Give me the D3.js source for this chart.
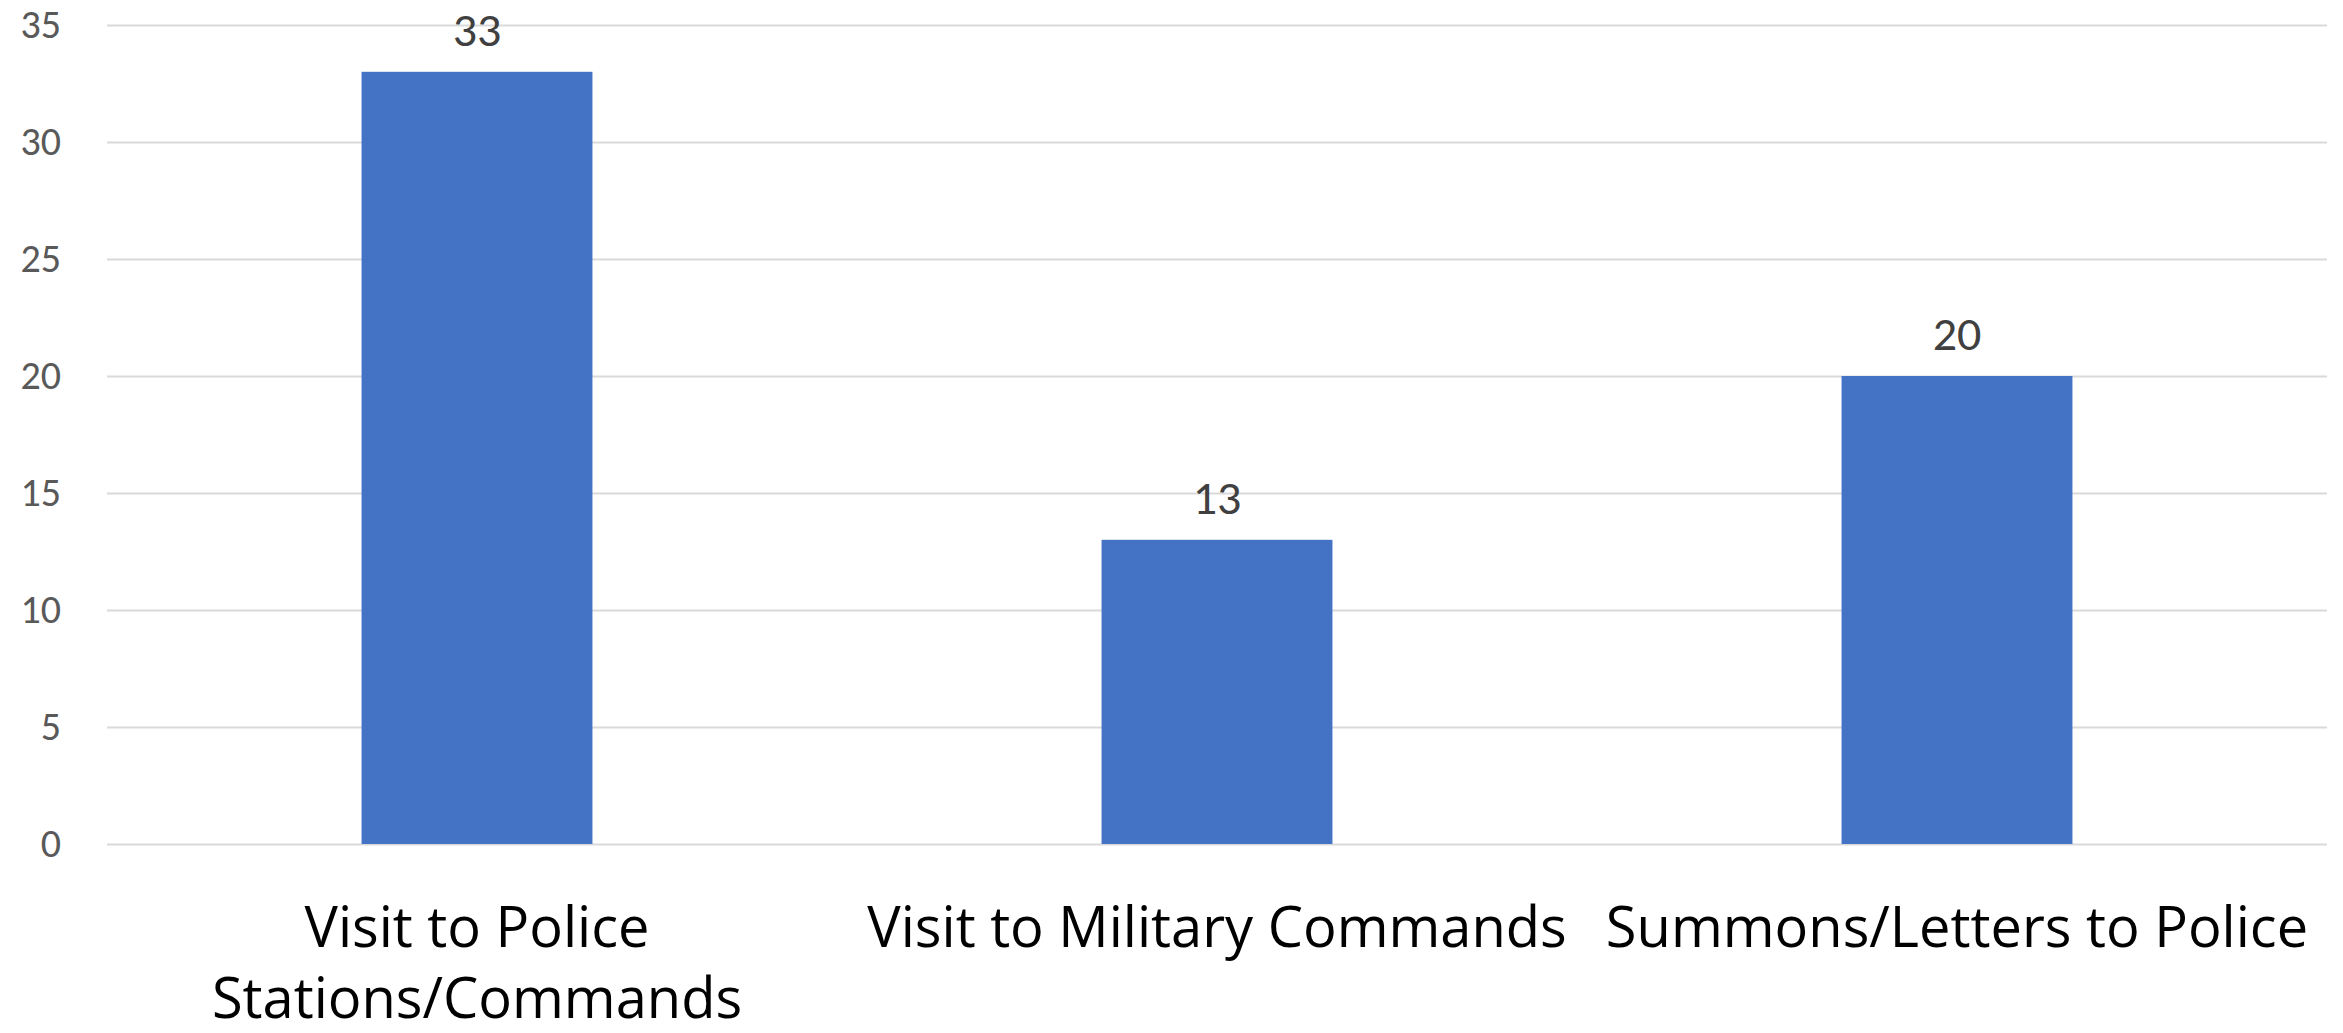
<!DOCTYPE html>
<html>
<head>
<meta charset="utf-8">
<script src="https://cdn.jsdelivr.net/npm/d3@7"></script>
<style>
  html, body { margin: 0; padding: 0; background: #ffffff; }
  svg { display: block; }
  text { font-family: Carlito, Calibri, Lato, sans-serif; }
</style>
</head>
<body>
<svg id="chart" width="2343" height="1033"></svg>
<script>
const categories = [
  ["Visit to Police", "Stations/Commands"],
  ["Visit to Military Commands"],
  ["Summons/Letters to Police"]
];
const categoryKeys = ["Visit to Police Stations/Commands", "Visit to Military Commands", "Summons/Letters to Police"];
const values = [33, 13, 20];
const yTicks = [0, 5, 10, 15, 20, 25, 30, 35];

const W = 2343, H = 1033;
const margin = { left: 107, right: 16, top: 25, bottom: 189 };
const svg = d3.select("#chart");

const x = d3.scaleBand()
  .domain(categoryKeys)
  .range([margin.left, W - margin.right])
  .paddingInner(0.688)
  .paddingOuter(0.344);

const y = d3.scaleLinear()
  .domain([0, 35])
  .range([H - margin.bottom, margin.top]);

// gridlines
const grid = svg.append("g")
  .attr("transform", `translate(${margin.left},0)`)
  .call(d3.axisLeft(y).tickValues(yTicks).tickSize(-(W - margin.left - margin.right)).tickFormat(""));
grid.select(".domain").remove();
grid.selectAll("line").attr("stroke", "#d9d9d9").attr("stroke-width", 2);

// y tick labels
const yAxis = svg.append("g")
  .attr("transform", `translate(${margin.left},0)`)
  .call(d3.axisLeft(y).tickValues(yTicks).tickSize(0).tickPadding(46));
yAxis.select(".domain").remove();
yAxis.selectAll("text")
  .attr("fill", "#595959")
  .style("font-size", "40px")
  .style("font-family", "Carlito, Calibri, Lato, sans-serif");

// bars
svg.append("g").selectAll("rect")
  .data(values)
  .join("rect")
  .attr("x", (d, i) => x(categoryKeys[i]))
  .attr("width", x.bandwidth())
  .attr("y", d => y(d))
  .attr("height", d => y(0) - y(d))
  .attr("fill", "#4472C4");

// value labels
svg.append("g").selectAll("text")
  .data(values)
  .join("text")
  .attr("x", (d, i) => x(categoryKeys[i]) + x.bandwidth() / 2)
  .attr("y", d => y(d) - 26)
  .attr("text-anchor", "middle")
  .attr("fill", "#404040")
  .style("font-size", "48px")
  .text(d => d);

// category labels
const xAxis = svg.append("g")
  .attr("transform", `translate(0,${H - margin.bottom})`)
  .call(d3.axisBottom(x).tickSize(0).tickFormat(""));
xAxis.select(".domain").remove();
xAxis.selectAll(".tick").each(function(d, i) {
  const t = d3.select(this).append("text")
    .attr("text-anchor", "middle")
    .attr("fill", "#000000")
    .style("font-size", "56px")
    .style("font-family", "'Open Sans', Lato, sans-serif");
  categories[i].forEach((line, j) => {
    t.append("tspan").attr("x", 0).attr("y", 103 + j * 71).text(line);
  });
});
</script>
</body>
</html>
